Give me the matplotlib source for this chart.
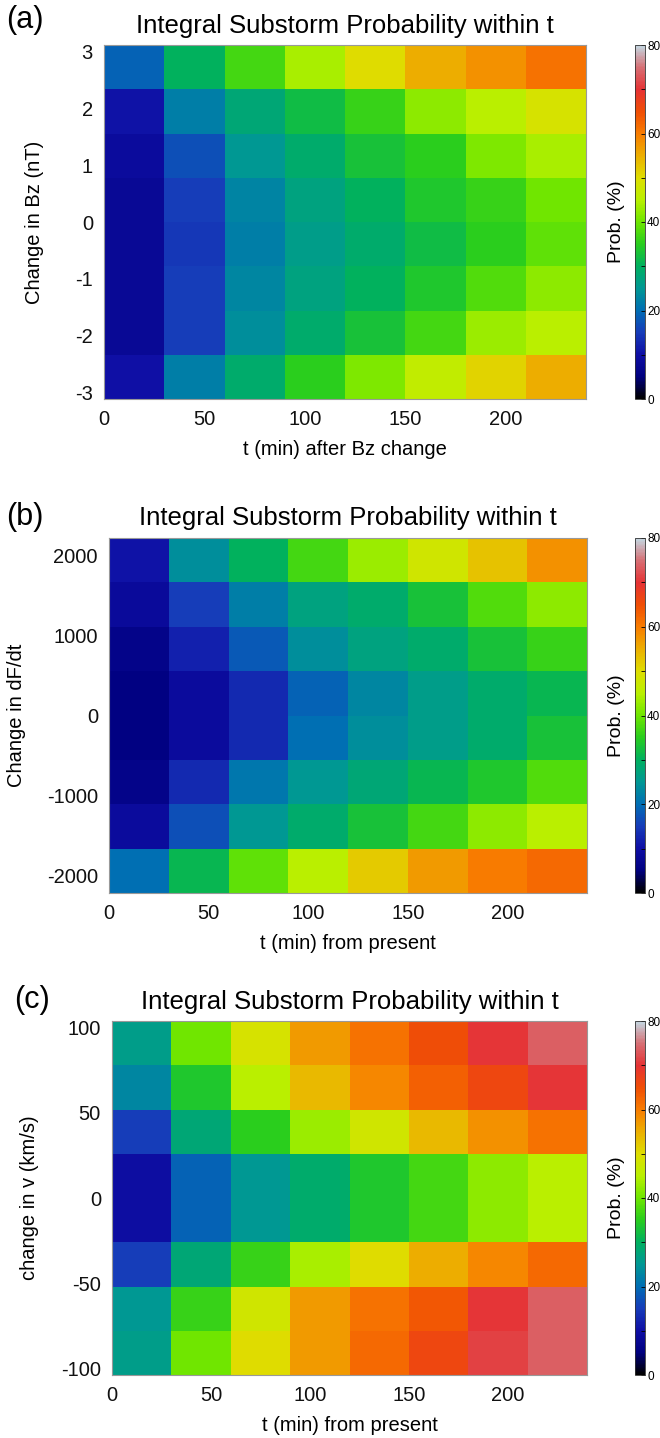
import numpy as np
import matplotlib
matplotlib.use('Agg')
import matplotlib.pyplot as plt
from matplotlib.colors import LinearSegmentedColormap

plt.rcParams['font.family'] = ['Liberation Sans', 'DejaVu Sans']
plt.rcParams['axes.unicode_minus'] = False

W, H = 660, 1438

# time bins (min)
t_edges = [0, 30, 60, 90, 120, 150, 180, 210, 240]

# probabilities (%), rows listed top -> bottom
prob_bz = [
    [19, 30, 37, 44, 50, 55, 58, 61],
    [10.5, 22, 28, 32, 36, 42, 45, 49],
    [9, 17, 25, 29, 33, 35, 41, 44],
    [8, 15, 22.5, 27, 30, 34, 36, 40],
    [8, 14.5, 22, 26, 29, 32, 35, 39],
    [8, 15, 23, 27, 30, 34, 38, 42],
    [8, 15, 24, 29, 33, 37, 43, 45],
    [10, 22, 29, 35, 41, 46, 51, 55],
]
prob_dfdt = [
    [10.5, 24, 30, 37, 43, 48, 53, 58],
    [8.5, 15, 22, 27, 29, 33, 38, 42],
    [6.5, 12, 18, 24, 27, 29, 33, 36],
    [5.5, 9, 13, 19, 23, 26, 29, 31],
    [5.5, 9, 13, 20, 24, 26, 29, 33],
    [6.5, 13, 21, 25, 28, 31, 34, 38],
    [9, 17, 25, 29, 33, 37, 42, 45],
    [20, 31, 39, 45, 52, 57, 60, 62],
]
prob_v = [
    [26, 40, 49, 57, 61, 65, 70, 73.5],
    [23, 34, 45, 54, 59, 63, 66, 70],
    [15, 28, 35, 43, 48, 54, 58, 61],
    [9.5, 19, 25, 29, 34, 37, 42, 45],
    [9.5, 19, 25, 29, 34, 37, 42, 45],
    [15, 28, 36, 44, 50, 55, 59, 62],
    [25, 36, 48, 57, 61, 64, 70, 73.5],
    [26, 40, 50, 57, 62, 66, 71, 73.5],
]

bz_edges = np.linspace(-3.12, 3.12, 9)
dfdt_edges = np.linspace(-2220, 2220, 9)
v_edges = np.linspace(-104, 104, 9)

bz_ticks = [-3, -2, -1, 0, 1, 2, 3]
dfdt_ticks = [-2000, -1000, 0, 1000, 2000]
v_ticks = [-100, -50, 0, 50, 100]
t_ticks = [0, 50, 100, 150, 200]

# rainbow-ish colour table, black -> blue -> green -> yellow -> red -> grey
cstops = [
    (0.0, (0, 0, 0)), (5, (0, 0, 128)), (10, (15, 15, 165)), (15, (22, 60, 185)),
    (20, (0, 110, 180)), (25, (0, 152, 148)), (30, (0, 176, 95)), (35, (40, 205, 30)),
    (40, (110, 230, 0)), (45, (185, 240, 0)), (50, (222, 222, 0)), (55, (236, 175, 0)),
    (60, (248, 125, 0)), (65, (240, 78, 5)), (70, (230, 50, 52)), (75, (215, 110, 115)),
    (80, (195, 215, 225)),
]
cmap = LinearSegmentedColormap.from_list(
    'prob', [(v / 80.0, tuple(c / 255 for c in rgb)) for v, rgb in cstops])


def fig_rect(x0, y0, x1, y1):
    return [x0 / W, 1 - y1 / H, (x1 - x0) / W, (y1 - y0) / H]


fig = plt.figure(figsize=(W / 100, H / 100), dpi=100)
fig.patch.set_facecolor('white')

panels = [
    ('(a)', prob_bz, bz_edges, bz_ticks, 'Change in Bz (nT)', 't (min) after Bz change',
     (104, 45, 586, 399), (6, 20), 44),
    ('(b)', prob_dfdt, dfdt_edges, dfdt_ticks, 'Change in dF/dt', 't (min) from present',
     (109, 538, 587, 893), (6, 517), 26),
    ('(c)', prob_v, v_edges, v_ticks, 'change in v (km/s)', 't (min) from present',
     (112, 1021, 587, 1375), (14, 1000), 39),
]

for letter, vals, yedges, yticks, ylab, xlab, box, lpos, ylx in panels:
    x0, y0, x1, y1 = box
    ax = fig.add_axes(fig_rect(*box))
    z = np.flipud(np.array(vals, dtype=float))
    mesh = ax.pcolormesh(t_edges, yedges, z, cmap=cmap, vmin=0, vmax=80, shading='flat')
    ax.set_xlim(t_edges[0], t_edges[-1])
    ax.set_ylim(yedges[0], yedges[-1])
    ax.set_xticks(t_ticks)
    ax.set_yticks(yticks)
    ax.tick_params(length=0, labelsize=14.5, pad=8, colors='#111111')
    for sp in ax.spines.values():
        sp.set_edgecolor('#999999')
        sp.set_linewidth(0.8)
    ax.set_xlabel(xlab, fontsize=14.5, labelpad=8)
    ax.yaxis.set_label_coords((ylx - x0) / (x1 - x0), 0.5)
    ax.set_ylabel(ylab, fontsize=14.5)
    ax.set_title('Integral Substorm Probability within t', fontsize=18.5, pad=9)
    fig.text(lpos[0] / W, 1 - lpos[1] / H, letter, fontsize=22, ha='left', va='center')

    cax = fig.add_axes(fig_rect(635, y0, 645, y1))
    cb = fig.colorbar(mesh, cax=cax)
    cb.set_ticks([0, 20, 40, 60, 80])
    cb.set_ticks([10, 30, 50, 70], minor=True)
    cax.tick_params(which='both', direction='in', length=3, width=0.6, labelsize=8.5, pad=1.5)
    cb.outline.set_linewidth(0.6)
    cb.outline.set_edgecolor('#333333')
    cax.yaxis.set_label_position('left')
    cax.set_ylabel('Prob. (%)', fontsize=14, labelpad=7)

fig.savefig('out.png', dpi=100, facecolor='white')
